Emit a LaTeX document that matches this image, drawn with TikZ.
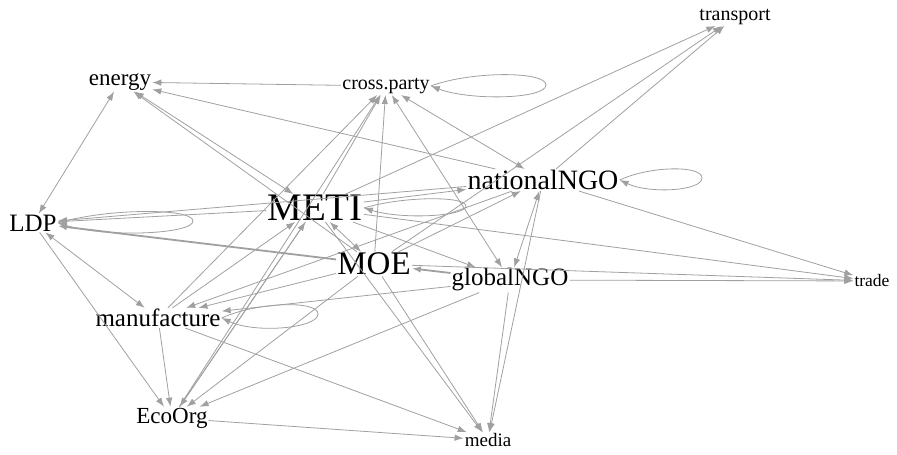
\documentclass[tikz,border=0pt]{standalone}
\usepackage{fontspec}
\setmainfont{Liberation Serif}
\usepackage{tikz}
\usetikzlibrary{arrows.meta}

\definecolor{edgegray}{RGB}{160,160,160}

\tikzset{
  actor/.style={inner sep=1pt, text=black},
  edge/.style={draw=edgegray, line width=0.8pt, -{Latex[length=9pt,width=6.5pt]}},
  medge/.style={draw=edgegray, line width=0.8pt, {Latex[length=9pt,width=6.5pt]}-{Latex[length=9pt,width=6.5pt]}},
  heavy/.style={line width=1.8pt}
}

\newcommand{\fs}[1]{\fontsize{#1}{#1}\selectfont}

\begin{document}
\begin{tikzpicture}[x=1pt,y=-1pt]

\useasboundingbox (0,0) rectangle (897,455);

% actor nodes
\node[actor,font=\fs{20}] (transport) at (735,17) {transport};
\node[actor,font=\fs{23}] (energy) at (120,82) {energy};
\node[actor,font=\fs{20}] (crossparty) at (386,86) {cross.party};
\node[actor,font=\fs{28}] (nationalNGO) at (543,180) {nationalNGO};
\node[actor,font=\fs{39}] (METI) at (315,208) {METI};
\node[actor,font=\fs{25}] (LDP) at (33,223) {LDP};
\node[actor,font=\fs{33}] (MOE) at (374,264) {MOE};
\node[actor,font=\fs{25}] (globalNGO) at (510,280) {globalNGO};
\node[actor,font=\fs{17.5}] (trade) at (872,281) {trade};
\node[actor,font=\fs{25}] (manufacture) at (158,318) {manufacture};
\node[actor,font=\fs{23}] (EcoOrg) at (172,418) {EcoOrg};
\node[actor,font=\fs{19}] (media) at (488,440) {media};

% loop ends
\coordinate (LDPloop) at (193,221);
\coordinate (manuloop) at (318,314);
\coordinate (crossloop) at (546,85);
\coordinate (natloop) at (702,178);
\coordinate (METIloop) at (466,206);

% into energy
\draw[edge] (crossparty) to (energy);
\draw[edge] (nationalNGO) to (energy);
\draw[edge] (MOE) to (energy);
\draw[medge] (METI) to (energy);
\draw[medge] (energy) to (LDP);

% into LDP
\draw[edge] (METI) to (LDP);
\draw[edge] (nationalNGO) to (LDP);
\draw[edge,heavy] (MOE) to (LDP);
\draw[medge] (LDP) to (manufacture);
\draw[edge] (LDP) to (EcoOrg);
\draw[edge] (LDP.east) .. controls +(50,-15) and +(0,-13) .. (LDPloop)
  .. controls +(0,13) and +(50,15) .. (LDP.east);

% into cross.party
\draw[edge] (METI) to (crossparty);
\draw[edge] (MOE) to (crossparty);
\draw[edge] (manufacture) to (crossparty);
\draw[edge] (EcoOrg) to (crossparty);
\draw[medge] (globalNGO) to (crossparty);
\draw[medge] (nationalNGO) to (crossparty);
\draw[edge] (crossparty.east) .. controls +(40,-15) and +(0,-14) .. (crossloop)
  .. controls +(0,14) and +(40,15) .. (crossparty.east);

% into transport
\draw[edge] (METI) to (transport);
\draw[edge] (MOE) to (transport);
\draw[edge] (nationalNGO) to (transport);

% into trade
\draw[edge] (METI) to (trade);
\draw[edge] (MOE) to (trade);
\draw[edge] (nationalNGO) to (trade);
\draw[edge] (globalNGO) to (trade);

% into nationalNGO
\draw[edge] (METI) to (nationalNGO);
\draw[edge] (MOE) to (nationalNGO);
\draw[medge] (globalNGO) to (nationalNGO);
\draw[edge] (nationalNGO.east) .. controls +(30,-14) and +(0,-13) .. (natloop)
  .. controls +(0,13) and +(30,14) .. (nationalNGO.east);

% globalNGO and MOE
\draw[edge] (METI) to (globalNGO);
\draw[edge,heavy] (globalNGO) to (MOE);

% into METI
\draw[medge] (MOE) to (METI);
\draw[edge] (manufacture) to (METI);
\draw[edge] (EcoOrg) to (METI);
\draw[edge] (METI.east) .. controls +(40,-12) and +(0,-10) .. (METIloop)
  .. controls +(0,10) and +(40,12) .. (METI.east);

% into manufacture
\draw[edge] (MOE) to (manufacture);
\draw[edge] (globalNGO) to (manufacture);
\draw[edge] (nationalNGO) to (manufacture);
\draw[edge] (manufacture.east) .. controls +(35,-16) and +(0,-14) .. (manuloop)
  .. controls +(0,14) and +(35,16) .. (manufacture.east);

% into EcoOrg
\draw[edge] (manufacture) to (EcoOrg);
\draw[edge] (METI) to (EcoOrg);
\draw[edge] (MOE) to (EcoOrg);
\draw[edge] (globalNGO) to (EcoOrg);

% into media
\draw[edge] (manufacture) to (media);
\draw[edge] (EcoOrg) to (media);
\draw[edge] (METI) to (media);
\draw[edge] (MOE) to (media);
\draw[edge] (globalNGO) to (media);
\draw[edge] (nationalNGO) to (media);

\end{tikzpicture}
\end{document}
